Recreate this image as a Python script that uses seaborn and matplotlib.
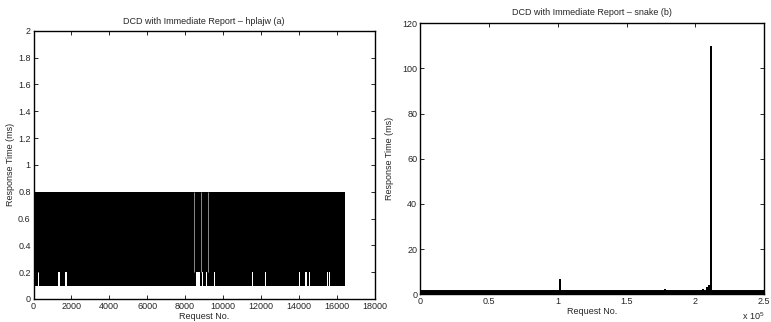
import numpy as np
import pandas as pd
import matplotlib
matplotlib.use("Agg")
import matplotlib.pyplot as plt
import seaborn as sns

# ---------------- data ----------------
# (a) hplajw: response time oscillates between a low and a high level
left_title = "DCD with Immediate Report \u2013 hplajw (a)"
left_last_request = 16450
left_low_ms = 0.1
left_high_ms = 0.8
# stretches where the low level was 0.2 ms instead of 0.1 ms
left_gap_start = [220, 1310, 1640, 1730, 8580, 8880, 9100, 9530, 10780, 11510, 12220, 14030, 14320, 14530, 15490, 15620]
left_gap_end = [275, 1375, 1695, 1785, 8800, 8935, 9155, 9595, 10820, 11565, 12275, 14085, 14430, 14570, 15545, 15675]
left_gap_level = 0.2
# single requests that stayed high (thin light lines through the band)
left_thin_x = [8490, 8850, 9230]
left_xticks = [0, 2000, 4000, 6000, 8000, 10000, 12000, 14000, 16000, 18000]
left_yticks = [0, 0.2, 0.4, 0.6, 0.8, 1, 1.2, 1.4, 1.6, 1.8, 2]

# (b) snake: near-constant ~1 ms with a few spikes
right_title = "DCD with Immediate Report \u2013 snake (b)"
right_last_request = 250000
right_base_ms = 1.3
spike_x = [50800, 101900, 157300, 177900, 205700, 208100, 209800, 210500, 211300]
spike_ms = [1.6, 6.5, 1.6, 1.9, 2.0, 2.7, 3.5, 3.8, 109.5]
right_xticks = [0, 50000, 100000, 150000, 200000, 250000]
right_xticklabels = ["0", "0.5", "1", "1.5", "2", "2.5"]
right_yticks = [0, 20, 40, 60, 80, 100, 120]

xlabel = "Request No."
ylabel = "Response Time (ms)"

# ---------------- style ----------------
sns.set_style("ticks")
plt.rcParams['font.family'] = ['Liberation Sans', 'DejaVu Sans']
plt.rcParams['mathtext.default'] = 'regular'
plt.rcParams['font.size'] = 6.5

fig = plt.figure(figsize=(7.71, 3.22), dpi=100)
W, H = 771, 322
axL = fig.add_axes([33.5 / W, (H - 299) / H, 341 / W, 268.3 / H])
axR = fig.add_axes([420 / W, (H - 294.3) / H, 344.3 / W, 271 / H])

# ---------------- left panel ----------------
edges = [0]
lows = []
for s, e in zip(left_gap_start, left_gap_end):
    edges += [s, e]
    lows += [left_low_ms, left_gap_level]
edges.append(left_last_request)
lows.append(left_low_ms)
lows.append(left_low_ms)
axL.fill_between(edges, lows, [left_high_ms] * len(edges), step='post',
                 color='black', linewidth=0)
axL.vlines(left_thin_x, left_gap_level, left_high_ms, colors='#a0a0a0', linewidth=0.6)

axL.set_xlim(0, 18000)
axL.set_ylim(0, 2)
axL.set_xticks(left_xticks)
axL.set_xticklabels([str(v) for v in left_xticks])
axL.set_yticks(left_yticks)
axL.set_yticklabels(["0", "0.2", "0.4", "0.6", "0.8", "1", "1.2", "1.4", "1.6", "1.8", "2"])
axL.set_title(left_title, fontsize=6.5, pad=5)
axL.set_xlabel(xlabel, fontsize=6.5, labelpad=1)
axL.set_ylabel(ylabel, fontsize=6.5, labelpad=2)

# ---------------- right panel ----------------
px, py = [0], [right_base_ms]
for x, h in zip(spike_x, spike_ms):
    px += [x, x, x]
    py += [right_base_ms, h, right_base_ms]
px.append(right_last_request)
py.append(right_base_ms)
spikes = pd.DataFrame({"request": px, "ms": py})
axR.fill_between([0, right_last_request], 0, right_base_ms, color='black', linewidth=0)
sns.lineplot(data=spikes, x="request", y="ms", sort=False, estimator=None,
             color='black', linewidth=1.4, ax=axR)

axR.set_xlim(0, 250000)
axR.set_ylim(0, 120)
axR.set_xticks(right_xticks)
axR.set_xticklabels(right_xticklabels)
axR.set_yticks(right_yticks)
axR.set_title(right_title, fontsize=6.5, pad=6)
axR.set_xlabel(xlabel, fontsize=6.5, labelpad=1)
axR.set_ylabel(ylabel, fontsize=6.5, labelpad=6)
axR.text(1.0, -0.08, r"x 10$^{5}$", transform=axR.transAxes, ha='right', va='center', fontsize=6.5)

for ax in (axL, axR):
    ax.tick_params(direction='in', top=True, right=True, length=3, width=0.7,
                   labelsize=6.5, pad=2)
    for sp in ax.spines.values():
        sp.set_visible(True)
        sp.set_linewidth(1.0)
        sp.set_color('black')

fig.savefig("out.png", dpi=100)
